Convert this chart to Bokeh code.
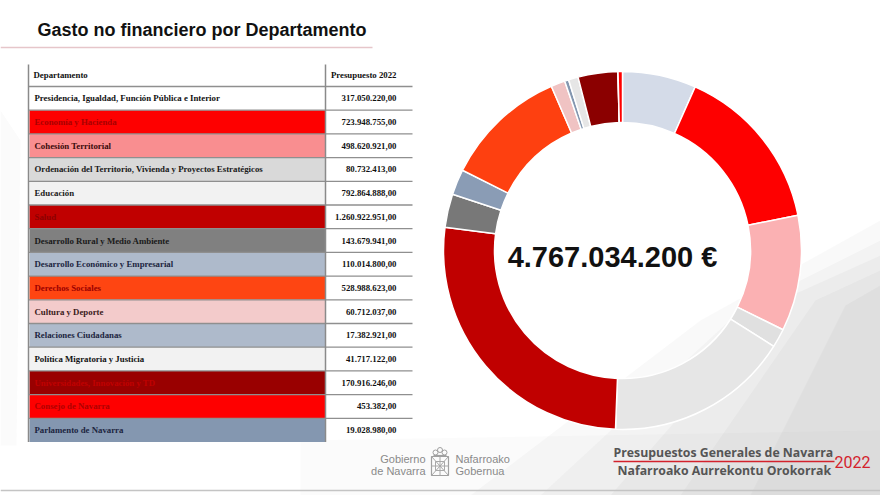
import numpy as np
from bokeh.plotting import figure
from bokeh.models import Range1d, ColumnDataSource
from bokeh.core.properties import value
from bokeh.embed import file_html
from bokeh.resources import INLINE

# ---------------- data ----------------
titulo = "Gasto no financiero por Departamento"
cabecera_departamento = "Departamento"
cabecera_presupuesto = "Presupuesto 2022"

departamentos = [
    "Presidencia, Igualdad, Función Pública e Interior",
    "Economía y Hacienda",
    "Cohesión Territorial",
    "Ordenación del Territorio, Vivienda y Proyectos Estratégicos",
    "Educación",
    "Salud",
    "Desarrollo Rural y Medio Ambiente",
    "Desarrollo Económico y Empresarial",
    "Derechos Sociales",
    "Cultura y Deporte",
    "Relaciones Ciudadanas",
    "Política Migratoria y Justicia",
    "Universidades, Innovación y TD",
    "Consejo de Navarra",
    "Parlamento de Navarra",
]
presupuesto = [
    317050220.00, 723948755.00, 498620921.00, 80732413.00, 792864888.00,
    1260922951.00, 143679941.00, 110014800.00, 528988623.00, 60712037.00,
    17382921.00, 41717122.00, 170916246.00, 453382.00, 19028980.00,
]
colores_tabla = [
    "#ffffff", "#fe0000", "#f98e90", "#d9d9d9", "#f2f2f2",
    "#c00000", "#808080", "#aebacb", "#fe4512", "#f3cbcb",
    "#aebacb", "#f2f2f2", "#990000", "#fe0000", "#8497b0",
]
colores_texto = [
    "#111111", "#a80000", "#3a0b0b", "#1a1a1a", "#1a1a1a",
    "#8c0000", "#1a1a1a", "#1c2540", "#9a0000", "#3a1a1a",
    "#1c2540", "#111111", "#c00000", "#b00000", "#1c2540",
]
colores_anillo = [
    "#d4dbe8", "#fe0000", "#fbb1b3", "#e0e0e0", "#e6e6e6",
    "#c00000", "#787878", "#8a9cb5", "#fe4010", "#f0c3c3",
    "#8497b0", "#e6e6e6", "#8b0000", "#fe0000", "#fe0000",
]

pie_gobierno_es = ["Gobierno", "de Navarra"]
pie_gobierno_eu = ["Nafarroako", "Gobernua"]
pie_presupuestos = ["Presupuestos Generales de Navarra", "Nafarroako Aurrekontu Orokorrak"]
pie_anio = "2022"


def fmt_es(v, dec=2):
    s = f"{v:,.{dec}f}"
    return s.replace(",", "_").replace(".", ",").replace("_", ".")


vals = np.array(presupuesto)
total = vals.sum()
etiquetas = [fmt_es(v) for v in vals]
total_texto = fmt_es(total, 0) + " €"

# ---------------- figure (data coords = image pixels, y negated) ----------------
W, H = 880, 495
p = figure(width=W, height=H, x_range=Range1d(0, W), y_range=Range1d(-H, 0),
           output_backend="svg", toolbar_location=None,
           x_axis_location=None, y_axis_location=None, min_border=0,
           outline_line_color=None, background_fill_color="white",
           border_fill_color="white")
p.grid.visible = False

# background shading (slide look), soft layered
layers = [
    ([700, 880, 880, 470], [320, 220, 495, 495], 0.05),
    ([740, 880, 880, 540], [310, 240, 495, 495], 0.05),
    ([780, 880, 880, 610], [300, 255, 495, 495], 0.06),
    ([815, 880, 880, 680], [300, 270, 495, 495], 0.06),
    ([845, 880, 880, 750], [305, 285, 495, 495], 0.07),
    ([300, 880, 880, 300], [440, 430, 495, 495], 0.03),
    ([0, 20, 16, 0], [110, 140, 445, 445], 0.04),
]
for xs, ys, a in layers:
    p.patch(x=xs, y=[-y for y in ys], fill_color="#8f8f8f", fill_alpha=a, line_color=None)

# title
p.text(x=[37], y=[-29], text=[titulo], text_font=value("Liberation Sans"),
       text_font_style="bold", text_font_size="18px", text_baseline="middle",
       text_color="#111111")
p.segment(x0=[0], y0=[-47], x1=[372], y1=[-47], line_color="#e6c6ca", line_width=1.5)

# ---------------- table ----------------
top0, rh = 86.0, 23.7
n = len(departamentos)
idx = np.arange(n)
tops = top0 + idx * rh
bots = tops + rh
cen = tops + rh / 2

src_t = ColumnDataSource(dict(top=-tops, bottom=-bots, y=-cen, dep=departamentos,
                              lab=etiquetas, fc=colores_tabla, tc=colores_texto))
p.quad(left=29, right=324.5, top="top", bottom="bottom", fill_color="fc",
       line_color=None, source=src_t)

ys_lines = np.concatenate([[top0], bots[:-1]])
p.segment(x0=28, y0=-ys_lines, x1=412, y1=-ys_lines, line_color="#8f8f8f", line_width=1.3)
p.segment(x0=[28, 325], y0=[-64, -64], x1=[28, 325], y1=[-bots[-1], -bots[-1]],
          line_color="#8a8a8a", line_width=1.5)

serif = value("Liberation Serif")
fs = "8.8px"
p.text(x=[33], y=[-74.5], text=[cabecera_departamento], text_font=serif,
       text_font_style="bold", text_font_size=fs, text_baseline="middle",
       text_color="#111111")
p.text(x=[396], y=[-74.5], text=[cabecera_presupuesto], text_font=serif,
       text_font_style="bold", text_font_size=fs, text_baseline="middle",
       text_align="right", text_color="#111111")
p.text(x=34, y="y", text="dep", text_font=serif, text_font_style="bold",
       text_font_size=fs, text_baseline="middle", text_color="tc", source=src_t)
p.text(x=396, y="y", text="lab", text_font=serif, text_font_style="bold",
       text_font_size=fs, text_baseline="middle", text_align="right",
       text_color="#111111", source=src_t)

# ---------------- donut ----------------
frac = vals / total
cum = np.cumsum(frac)
cum0 = cum - frac
start = np.pi / 2 - 2 * np.pi * cum
end = np.pi / 2 - 2 * np.pi * cum0
src_d = ColumnDataSource(dict(s=start, e=end, c=colores_anillo))
p.annular_wedge(x=622, y=-250, inner_radius=128, outer_radius=179,
                start_angle="s", end_angle="e", fill_color="c",
                line_color="white", line_width=1.5, source=src_d)

p.text(x=[612], y=[-256], text=[total_texto], text_font=value("Liberation Sans"),
       text_font_style="bold", text_font_size="29px", text_baseline="middle",
       text_align="center", text_color="#111111")

# ---------------- footer ----------------
sans = value("Liberation Sans")
p.text(x=[425, 425], y=[-458, -470], text=pie_gobierno_es, text_font=sans,
       text_font_size="11px", text_baseline="middle", text_align="right",
       text_color="#8a8a8a")
p.text(x=[455, 455], y=[-458, -470], text=pie_gobierno_eu, text_font=sans,
       text_font_size="11px", text_baseline="middle", text_color="#8a8a8a")
# coat of arms (simplified)
p.quad(left=[431], right=[448], top=[-456], bottom=[-475], fill_color=None,
       line_color="#a0a0a0", line_width=1.2)
p.segment(x0=[431, 448, 439.5, 431], y0=[-456, -456, -456, -465.5],
          x1=[448, 431, 439.5, 448], y1=[-475, -475, -475, -465.5],
          line_color="#a8a8a8", line_width=1)
p.quad(left=[435], right=[444], top=[-461], bottom=[-470], fill_color=None,
       line_color="#a8a8a8", line_width=1)
p.scatter(x=[435, 439.5, 444], y=[-452, -449.5, -452], size=5, marker="circle",
          fill_color=None, line_color="#a0a0a0", line_width=1)
p.segment(x0=[433], y0=[-455], x1=[446], y1=[-455], line_color="#a0a0a0", line_width=1.2)

p.text(x=[613], y=[-452], text=[pie_presupuestos[0]], text_font=value("Open Sans"),
       text_font_style="bold", text_font_size="12.3px", text_baseline="middle",
       text_color="#555555")
p.segment(x0=[613], y0=[-461], x1=[834], y1=[-461], line_color="#d3222c", line_width=1.6)
p.text(x=[617], y=[-470], text=[pie_presupuestos[1]], text_font=value("Open Sans"),
       text_font_style="bold", text_font_size="12.3px", text_baseline="middle",
       text_color="#555555")
p.text(x=[852], y=[-461], text=[pie_anio], text_font=value("Roboto"),
       text_font_size="16px", text_baseline="middle", text_align="center",
       text_color="#d3222c")
p.segment(x0=[0], y0=[-490], x1=[880], y1=[-490], line_color="#c4c4c4", line_width=1.5)

open("out.html", "w").write(file_html(p, INLINE))
